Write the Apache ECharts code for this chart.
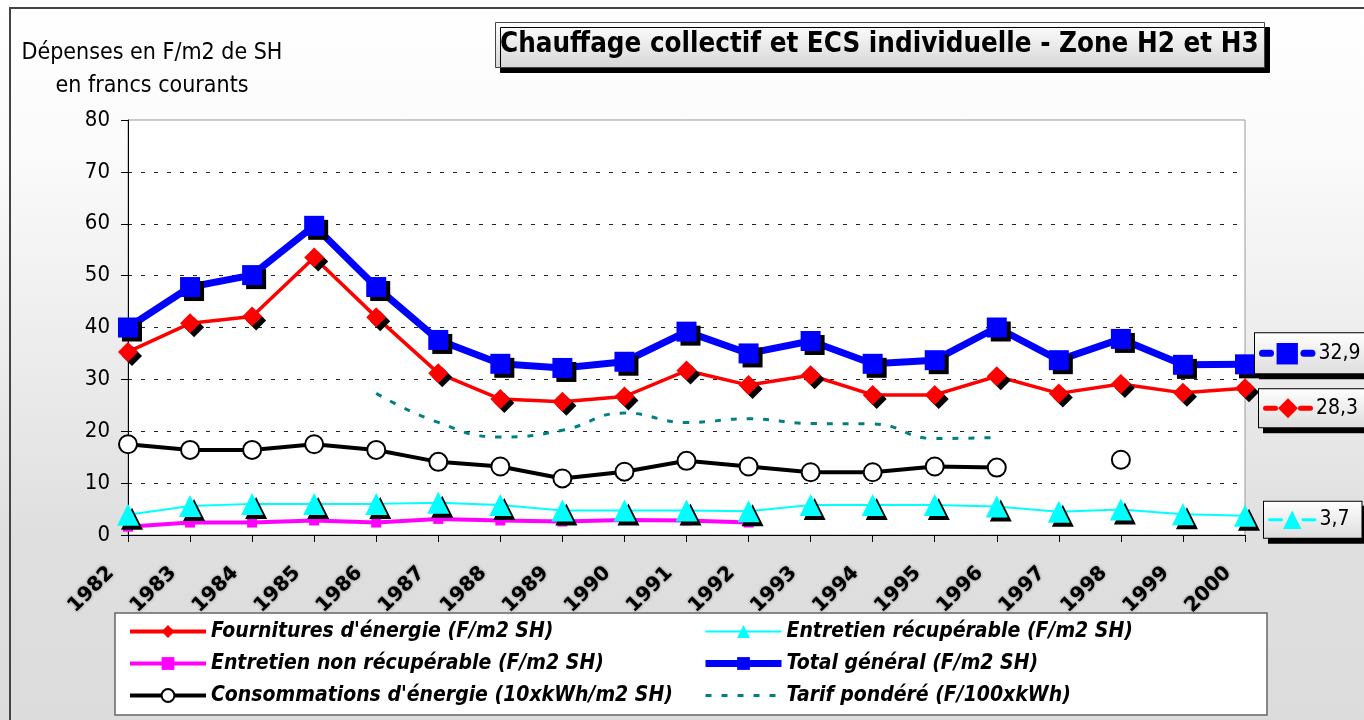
<!DOCTYPE html>
<html>
<head>
<meta charset="utf-8">
<script src="https://cdn.jsdelivr.net/npm/echarts@6/dist/echarts.min.js"></script>
<style>
  html, body { margin: 0; padding: 0; background: #fff; }
  #chart { width: 1364px; height: 720px; }
</style>
</head>
<body>
<div id="chart"></div>
<script>
// années (axe des x)
const years = ['1982', '1983', '1984', '1985', '1986', '1987', '1988', '1989', '1990', '1991',
  '1992', '1993', '1994', '1995', '1996', '1997', '1998', '1999', '2000']
const yTicks = [0, 10, 20, 30, 40, 50, 60, 70, 80]

// valeurs
const fournitures = [35.3, 40.8, 42.1, 53.5, 42.0, 31.2, 26.2, 25.7, 26.7, 31.7,
  28.9, 30.8, 27.0, 27.0, 30.6, 27.3, 29.1, 27.4, 28.3]
const entretienRecup = [3.9, 5.6, 6.0, 6.0, 6.0, 6.2, 5.8, 4.7, 4.7, 4.7,
  4.6, 5.8, 5.8, 5.8, 5.5, 4.5, 4.9, 4.0, 3.7]
const entretienNonRecup = [1.6, 2.4, 2.4, 2.8, 2.4, 3.1, 2.8, 2.6, 2.9, 2.8,
  2.4, null, null, null, null, null, null, null, null]
const totalGeneral = [40.0, 47.8, 50.1, 59.6, 47.8, 37.6, 33.0, 32.2, 33.4, 39.2,
  35.0, 37.4, 33.0, 33.7, 40.0, 33.7, 37.8, 32.8, 32.9]
const consommations = [17.5, 16.4, 16.4, 17.5, 16.4, 14.1, 13.2, 10.9, 12.2, 14.3,
  13.2, 12.1, 12.1, 13.2, 13.0, null, 14.5, null, null]
const tarif = [null, null, null, null, 27.3, 21.7, 18.9, 20.2, 23.5, 21.7,
  22.4, 21.5, 21.4, 18.6, 18.8, null, null, null, null]

const FONT = '"DejaVu Sans Condensed", "DejaVu Sans", sans-serif'

const chart = echarts.init(document.getElementById('chart'))

const grey = (a, b) => new echarts.graphic.LinearGradient(0, 0, 0, 1, [
  { offset: 0, color: a }, { offset: 1, color: b }
])

// petite étiquette de fin de courbe (symbole + valeur)
function endBox (color, mark, markSize, lineH, offset) {
  return {
    show: true,
    distance: 10,
    offset: offset,
    backgroundColor: grey('#ffffff', '#dcdcdc'),
    borderColor: '#000',
    borderWidth: 1,
    padding: [6, 12, 6, 4],
    shadowColor: '#000',
    shadowBlur: 0,
    shadowOffsetX: 5,
    shadowOffsetY: 5,
    formatter: p => '{ln| }{mk|' + mark + '}{ln| }{v|' + String(p.value).replace('.', ',') + '}',
    rich: {
      ln: { width: 15, height: lineH, backgroundColor: color, borderRadius: lineH / 2 },
      mk: { color: color, fontSize: markSize, fontFamily: 'DejaVu Sans' },
      v: { color: '#000', fontSize: 21, fontFamily: FONT, padding: [0, 0, 0, 3] }
    }
  }
}

const shadow = { shadowColor: '#000', shadowBlur: 0, shadowOffsetX: 4, shadowOffsetY: 4 }
const legendText = { fontFamily: FONT, fontSize: 21, fontWeight: 'bold', fontStyle: 'italic', color: '#000' }

chart.setOption({
  animation: false,
  backgroundColor: new echarts.graphic.LinearGradient(0, 0, 0, 1, [
    { offset: 0, color: '#ffffff' },
    { offset: 0.2, color: '#fbfbfb' },
    { offset: 0.75, color: '#dfdfdf' },
    { offset: 1, color: '#dcdcdc' }
  ]),
  title: {
    text: 'Chauffage collectif et ECS individuelle - Zone H2 et H3',
    left: 495,
    top: 22,
    padding: [9, 6, 9, 5],
    backgroundColor: grey('#ffffff', '#d6d6d6'),
    borderColor: '#444',
    borderWidth: 1,
    shadowColor: '#000',
    shadowBlur: 0,
    shadowOffsetX: 5,
    shadowOffsetY: 5,
    textStyle: { fontFamily: FONT, fontSize: 27.5, fontWeight: 'bold', color: '#000' }
  },
  graphic: [
    // cadre du graphique
    { type: 'rect', z: -10, shape: { x: 10, y: 8, width: 1400, height: 800 },
      style: { fill: 'none', stroke: '#444', lineWidth: 2 } },
    // cadre de la légende
    { type: 'rect', z: -5, shape: { x: 115, y: 613, width: 1152, height: 102 },
      style: { fill: '#fff', stroke: '#666', lineWidth: 1.5 } }
  ],
  grid: {
    left: 128,
    right: 119,
    top: 120,
    bottom: 185,
    containLabel: false,
    outerBoundsMode: 'none',
    show: true,
    backgroundColor: '#fff',
    borderColor: '#999',
    borderWidth: 1
  },
  legend: [
    {
      left: 123, top: 616, orient: 'vertical', itemGap: 11, itemWidth: 76, itemHeight: 16,
      data: [
        { name: "Fournitures d'énergie (F/m2 SH)", lineStyle: { width: 4 } },
        { name: 'Entretien non récupérable (F/m2 SH)', lineStyle: { width: 4 } },
        { name: "Consommations d'énergie (10xkWh/m2 SH)", lineStyle: { width: 4 } }
      ],
      itemStyle: { shadowColor: 'rgba(0,0,0,0)' },
      textStyle: legendText
    },
    {
      left: 697, top: 616, orient: 'vertical', itemGap: 11, itemWidth: 76, itemHeight: 16,
      data: [
        { name: 'Entretien récupérable (F/m2 SH)', lineStyle: { width: 2 } },
        { name: 'Total général (F/m2 SH)', lineStyle: { width: 7 } },
        { name: 'Tarif pondéré (F/100xkWh)', lineStyle: { width: 3 }, itemStyle: { opacity: 0 } }
      ],
      itemStyle: { shadowColor: 'rgba(0,0,0,0)' },
      textStyle: legendText
    }
  ],
  xAxis: {
    type: 'category',
    data: years,
    boundaryGap: false,
    axisLine: { lineStyle: { color: '#000', width: 1 } },
    axisTick: { show: true, length: 7, lineStyle: { color: '#000' } },
    splitLine: { show: false },
    axisLabel: {
      rotate: 45,
      margin: 18,
      padding: [0, 24, 0, 0],
      interval: 0,
      color: '#000',
      fontFamily: 'DejaVu Sans',
      fontSize: 20,
      fontWeight: 'bold',
      textShadowColor: '#777',
      textShadowBlur: 3
    }
  },
  yAxis: {
    type: 'value',
    min: yTicks[0],
    max: yTicks[yTicks.length - 1],
    interval: 10,
    name: 'Dépenses en F/m2 de SH\nen francs courants',
    nameLocation: 'end',
    nameGap: 17,
    nameTextStyle: {
      fontFamily: FONT, fontSize: 23, lineHeight: 33, color: '#000',
      align: 'center', padding: [0, 0, 0, 48]
    },
    axisLine: { show: true, lineStyle: { color: '#000', width: 1 } },
    axisTick: { show: true, length: 7, lineStyle: { color: '#000' } },
    axisLabel: { margin: 18, color: '#000', fontFamily: FONT, fontSize: 22 },
    splitLine: {
      show: true, showMinLine: false, showMaxLine: false,
      lineStyle: { color: '#222', type: [4, 9], width: 1 }
    }
  },
  series: [
    {
      name: "Fournitures d'énergie (F/m2 SH)",
      type: 'line',
      data: fournitures,
      symbol: 'diamond',
      symbolSize: 20,
      lineStyle: { color: '#ff0000', width: 3.5 },
      itemStyle: Object.assign({ color: '#ff0000' }, shadow),
      endLabel: endBox('#ff0000', '◆', 26, 5, [4, 20]),
      z: 3
    },
    {
      name: 'Entretien non récupérable (F/m2 SH)',
      type: 'line',
      data: entretienNonRecup,
      symbol: 'rect',
      symbolSize: 10,
      lineStyle: { color: '#ff00ff', width: 4 },
      itemStyle: { color: '#ff00ff' },
      z: 2
    },
    {
      name: "Consommations d'énergie (10xkWh/m2 SH)",
      type: 'line',
      data: consommations,
      symbol: 'circle',
      symbolSize: 18,
      lineStyle: { color: '#000', width: 4 },
      itemStyle: { color: '#fff', borderColor: '#000', borderWidth: 2 },
      z: 2
    },
    {
      name: 'Entretien récupérable (F/m2 SH)',
      type: 'line',
      data: entretienRecup,
      symbol: 'triangle',
      symbolSize: 22,
      lineStyle: { color: '#00ffff', width: 2 },
      itemStyle: Object.assign({ color: '#00ffff' }, shadow),
      endLabel: endBox('#00ffff', '▲', 24, 3, [9, 4]),
      z: 3
    },
    {
      name: 'Total général (F/m2 SH)',
      type: 'line',
      data: totalGeneral,
      symbol: 'rect',
      symbolSize: 20,
      lineStyle: { color: '#0000ff', width: 7 },
      itemStyle: Object.assign({ color: '#0000ff' }, shadow),
      endLabel: endBox('#0000ff', '■', 28, 7, [0, -11]),
      z: 4
    },
    {
      name: 'Tarif pondéré (F/100xkWh)',
      type: 'line',
      data: tarif,
      smooth: true,
      showSymbol: false,
      symbol: 'none',
      lineStyle: { color: '#008080', width: 3, type: [6, 10] },
      itemStyle: { color: '#008080' },
      z: 2
    }
  ]
})
</script>
</body>
</html>
